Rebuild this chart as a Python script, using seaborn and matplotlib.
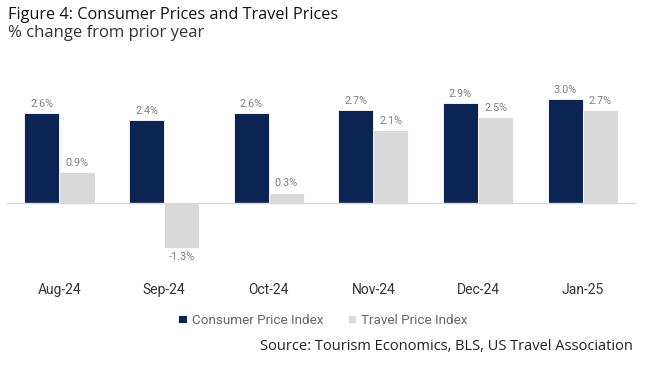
import matplotlib
matplotlib.use("Agg")
import matplotlib.pyplot as plt
import pandas as pd
import seaborn as sns

# Data
months = ["Aug-24", "Sep-24", "Oct-24", "Nov-24", "Dec-24", "Jan-25"]
cpi = [2.6, 2.4, 2.6, 2.7, 2.9, 3.0]
tpi = [0.9, -1.3, 0.3, 2.1, 2.5, 2.7]
series_names = ["Consumer Price Index", "Travel Price Index"]

COLORS = {"Consumer Price Index": "#002060", "Travel Price Index": "#d9d9d9"}

df = pd.DataFrame({
    "month": months * 2,
    "value": cpi + tpi,
    "series": [series_names[0]] * len(months) + [series_names[1]] * len(months),
})

sns.set_style("white")
plt.rcParams["font.family"] = ["Roboto", "DejaVu Sans"]

fig = plt.figure(figsize=(6.5, 3.77), dpi=100)
ax = fig.add_axes([0.011, 0.297, 0.966, 0.485])

sns.barplot(data=df, x="month", y="value", hue="series", palette=COLORS,
            width=0.67, edgecolor="white", linewidth=0.6, ax=ax)

ax.set_ylim(-1.8, 3.5)
ax.set_xlim(-0.5, len(months) - 0.5)
ax.set_xlabel("")
ax.set_ylabel("")
ax.set_yticks([])

for c in ax.containers:
    ax.bar_label(c, fmt="%.1f%%", padding=3, color="#808080", fontsize=7.8)

# zero line with category boundary ticks
for s in ["top", "right", "left"]:
    ax.spines[s].set_visible(False)
ax.spines["bottom"].set_position(("data", 0))
ax.spines["bottom"].set_color("#d9d9d9")
ax.spines["bottom"].set_linewidth(1)
ax.set_xticks([i - 0.5 for i in range(len(months) + 1)], minor=True)
ax.tick_params(axis="x", which="minor", length=5, width=1, color="#d9d9d9", direction="out")
ax.tick_params(axis="x", which="major", length=0, pad=58, labelsize=10, labelcolor="#333333")

# legend
handles, labels = ax.get_legend_handles_labels()
ax.get_legend().remove()
fig.legend(handles, labels, loc="center", bbox_to_anchor=(0.497, 0.151), ncol=2,
           frameon=False, handlelength=0.6, handleheight=0.6, handletextpad=0.4,
           columnspacing=1.8, fontsize=9.7, labelcolor="#666666")

# titles
fig.text(0.012, 0.96, "Figure 4: Consumer Prices and Travel Prices", fontsize=11.7,
         family=["Open Sans", "DejaVu Sans"], color="#111111", va="center", ha="left")
fig.text(0.012, 0.912, "% change from prior year", fontsize=12,
         family=["Open Sans", "DejaVu Sans"], color="#333333", va="center", ha="left")
fig.text(0.974, 0.082, "Source: Tourism Economics, BLS, US Travel Association", fontsize=10.5,
         family=["Open Sans", "DejaVu Sans"], color="#222222", va="center", ha="right")

plt.savefig("out.png", dpi=100)
plt.close()
